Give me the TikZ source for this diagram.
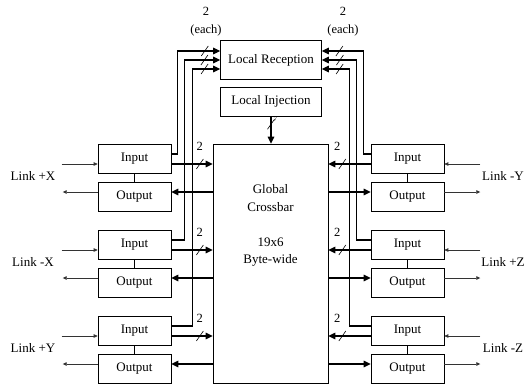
\documentclass[tikz,border=0pt]{standalone}
\usepackage{fontspec}
\setmainfont{Liberation Serif}
\usetikzlibrary{arrows.meta,calc,positioning}

\begin{document}
\begin{tikzpicture}[
		x=1pt, y=-1pt,
		box/.style={draw, line width=.6pt, minimum width=73pt, minimum height=28.5pt, inner sep=0pt, font=\fontsize{13}{15}\selectfont},
		bigbox/.style={draw, line width=.6pt, inner sep=0pt, font=\fontsize{13}{15}\selectfont},
		lbl/.style={font=\fontsize{13}{15}\selectfont},
		num/.style={font=\fontsize{12.5}{18}\selectfont, inner sep=0pt},
		bus/.style={line width=1.1pt, -{Triangle[length=7pt,width=6.5pt]}},
		busback/.style={line width=1.1pt, {Triangle[length=7pt,width=6.5pt]}-},
		link/.style={line width=.7pt, black!80, -{Triangle[length=4pt,width=3.5pt]}},
		tie/.style={line width=.6pt},
		slash/.pic={\draw[-, line width=.6pt] (-3.5,5) -- (3.5,-5);}
		]
	\useasboundingbox (0,0) rectangle (530,384);
	
	% Boites centrales
	\node[bigbox, minimum width=101pt, minimum height=38.5pt] (rec) at (271,60) {Local Reception};
	\node[bigbox, minimum width=101pt, minimum height=29pt] (inj) at (271,101.5) {Local Injection};
	\node[bigbox, minimum width=115pt, minimum height=239pt] (cb) at (270.5,263.5) {};
	\node[lbl, align=center, inner sep=0pt, font=\fontsize{13}{17.5}\selectfont, below=41pt of cb.north] (cbtxt) {Global\\Crossbar\\[17.5pt]19x6\\Byte-wide};
	
	% Ports a gauche
	\node[box] (inPX) at (134.5,159) {Input};
	\node[box] (outPX) at (134.5,197) {Output};
	\node[box] (inNX) at (134.5,245) {Input};
	\node[box] (outNX) at (134.5,283) {Output};
	\node[box] (inPY) at (134.5,331) {Input};
	\node[box] (outPY) at (134.5,369) {Output};
	
	% Ports a droite
	\node[box] (inNY) at (407.5,159) {Input};
	\node[box] (outNY) at (407.5,197) {Output};
	\node[box] (inPZ) at (407.5,245) {Input};
	\node[box] (outPZ) at (407.5,283) {Output};
	\node[box] (inNZ) at (407.5,331) {Input};
	\node[box] (outNZ) at (407.5,369) {Output};
	
	% Liens
	\node[lbl] (lPX) at (33,176) {Link +X};
	\node[lbl] (lNX) at (33,262) {Link -X};
	\node[lbl] (lPY) at (33,348) {Link +Y};
	\node[lbl] (lNY) at (503,176) {Link -Y};
	\node[lbl] (lPZ) at (503,262) {Link +Z};
	\node[lbl] (lNZ) at (503,348) {Link -Z};
	
	\node[num, align=center] (eachL) at (206,22) {2\\(each)};
	\node[num, align=center] (eachR) at (343,22) {2\\(each)};
	
	\draw[link] ($(inPX.west)+(-36,5)$) -- ($(inPX.west)+(0,5)$);
	\draw[link] ($(outPX.west)+(0,-5)$) -- ++(-35,0);
	\draw[link] ($(inNX.west)+(-36,5)$) -- ($(inNX.west)+(0,5)$);
	\draw[link] ($(outNX.west)+(0,-5)$) -- ++(-35,0);
	\draw[link] ($(inPY.west)+(-36,5)$) -- ($(inPY.west)+(0,5)$);
	\draw[link] ($(outPY.west)+(0,-5)$) -- ++(-35,0);
	\draw[link] ($(inNY.east)+(36,5)$) -- ($(inNY.east)+(0,5)$);
	\draw[link] ($(outNY.east)+(0,-5)$) -- ++(36,0);
	\draw[link] ($(inPZ.east)+(36,5)$) -- ($(inPZ.east)+(0,5)$);
	\draw[link] ($(outPZ.east)+(0,-5)$) -- ++(36,0);
	\draw[link] ($(inNZ.east)+(36,5)$) -- ($(inNZ.east)+(0,5)$);
	\draw[link] ($(outNZ.east)+(0,-5)$) -- ++(36,0);
	
	\draw[tie] (inPX) -- (outPX);
	\draw[tie] (inNX) -- (outNX);
	\draw[tie] (inPY) -- (outPY);
	\draw[tie] (inNY) -- (outNY);
	\draw[tie] (inPZ) -- (outPZ);
	\draw[tie] (inNZ) -- (outNZ);
	
	% Vers le crossbar
	\draw[bus] ($(inPX.east)+(0,5)$) coordinate (bPX) -- pic[pos=.69]{slash} node[num, pos=.69, above=12.5pt] {2} (bPX -| cb.west);
	\draw[bus] ($(inNX.east)+(0,5)$) coordinate (bNX) -- pic[pos=.69]{slash} node[num, pos=.69, above=12.5pt] {2} (bNX -| cb.west);
	\draw[bus] ($(inPY.east)+(0,5)$) coordinate (bPY) -- pic[pos=.69]{slash} node[num, pos=.69, above=12.5pt] {2} (bPY -| cb.west);
	\draw[bus] ($(inNY.west)+(0,5)$) coordinate (bNY) -- pic[pos=.67]{slash} node[num, pos=.79, above=12.5pt] {2} (bNY -| cb.east);
	\draw[bus] ($(inPZ.west)+(0,5)$) coordinate (bPZ) -- pic[pos=.67]{slash} node[num, pos=.79, above=12.5pt] {2} (bPZ -| cb.east);
	\draw[bus] ($(inNZ.west)+(0,5)$) coordinate (bNZ) -- pic[pos=.67]{slash} node[num, pos=.79, above=12.5pt] {2} (bNZ -| cb.east);
	
	% Depuis le crossbar
	\draw[busback] ($(outPX.east)+(0,-5)$) coordinate (oPX) -- (oPX -| cb.west);
	\draw[busback] ($(outNX.east)+(0,-5)$) coordinate (oNX) -- (oNX -| cb.west);
	\draw[busback] ($(outPY.east)+(0,-5)$) coordinate (oPY) -- (oPY -| cb.west);
	\draw[busback] ($(outNY.west)+(0,-5)$) coordinate (oNY) -- (oNY -| cb.east);
	\draw[busback] ($(outPZ.west)+(0,-5)$) coordinate (oPZ) -- (oPZ -| cb.east);
	\draw[busback] ($(outNZ.west)+(0,-5)$) coordinate (oNZ) -- (oNZ -| cb.east);
	
	% Vers la reception locale
	\draw[bus] ($(inPX.east)+(0,-5)$) -- ++(6,0) |- pic[pos=.82]{slash} ($(rec.west)+(0,-9)$);
	\draw[bus] ($(inNX.east)+(0,-5)$) -- ++(13,0) |- pic[pos=.78]{slash} (rec.west);
	\draw[bus] ($(inPY.east)+(0,-5)$) -- ++(21,0) |- pic[pos=.72]{slash} ($(rec.west)+(0,9)$);
	\draw[bus] ($(inNY.west)+(0,-5)$) -- ++(-7,0) |- pic[pos=.79]{slash} ($(rec.east)+(0,-9)$);
	\draw[bus] ($(inPZ.west)+(0,-5)$) -- ++(-14,0) |- pic[pos=.74]{slash} (rec.east);
	\draw[bus] ($(inNZ.west)+(0,-5)$) -- ++(-21,0) |- pic[pos=.68]{slash} ($(rec.east)+(0,9)$);
	
	% Injection locale
	\draw[bus] (inj) -- pic[pos=.29]{slash} node[pos=.1, right=2pt, font=\fontsize{7}{8}\selectfont, inner sep=0pt] {7} (inj |- cb.north);
\end{tikzpicture}
\end{document}
